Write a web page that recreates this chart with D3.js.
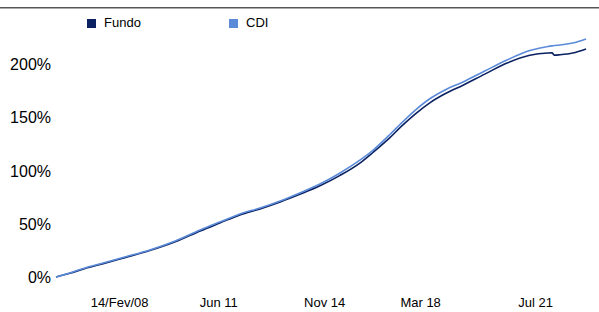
<!DOCTYPE html>
<html><head><meta charset="utf-8">
<script src="https://cdn.jsdelivr.net/npm/d3@7"></script>
<style>body{margin:0;background:#fff}svg{display:block}text{font-family:"Liberation Sans",Arial,sans-serif;fill:#000}</style>
</head><body><svg id="c" width="599" height="312"></svg>
<script>
// observation index along the category axis (0..100)
const periodIdx = [0, 2.6, 5.5, 8.9, 13.0, 17.7, 22.5, 27.2, 30.9, 34.7, 38.5, 42.3, 46.0, 49.8, 53.6, 57.4, 59.8, 63.0, 64.9, 67.7, 70.6, 73.4, 76.8, 80.9, 85.1, 89.4, 92.8, 93.6, 94.0, 95.1, 97.5, 100];
const cdi   = [0, 3.8, 8.5, 13.1, 18.8, 25.4, 33.8, 44.1, 51.6, 59.2, 64.8, 71.4, 78.9, 87.3, 97.7, 109.9, 119.0, 133.8, 143.2, 156.3, 167.6, 175.6, 183.1, 193.4, 203.8, 212.6, 216.5, 217.0, 217.3, 217.8, 219.7, 223.5];
const fundo = [0, 3.5, 8.0, 12.5, 18.2, 24.8, 33.0, 43.2, 50.7, 58.3, 63.9, 70.4, 77.6, 85.6, 95.4, 107.2, 116.9, 130.8, 140.2, 152.8, 163.8, 172.0, 180.1, 190.5, 200.9, 208.2, 210.3, 210.4, 208.3, 208.7, 210.3, 214.1];
const seriesNames = ["Fundo", "CDI"];
const seriesColors = ["#0b2262", "#5b8bd8"];
const tickIdx = [11.9, 30.6, 50.6, 68.7, 90.4];
const tickLabels = ["14/Fev/08", "Jun 11", "Nov 14", "Mar 18", "Jul 21"];
const yTicks = [0, 50, 100, 150, 200];

const svg = d3.select("#c");
const x = d3.scaleLinear().domain([0, 100]).range([56, 586]);
const y = d3.scaleLinear().domain([0, 200]).range([277, 64]);

// top rule
svg.append("line").attr("x1",0).attr("x2",599).attr("y1",7.5).attr("y2",7.5).attr("stroke","#555").attr("stroke-width",1);
svg.append("line").attr("x1",0).attr("x2",599).attr("y1",8.5).attr("y2",8.5).attr("stroke","#aaa").attr("stroke-width",1);

// y axis labels
const yAxis = d3.axisLeft(y).tickValues(yTicks).tickFormat(d => d + "%").tickSize(0).tickPadding(0);
const gy = svg.append("g").attr("transform","translate(51,0)").call(yAxis);
gy.select(".domain").remove();
gy.selectAll("text").attr("font-size",16).attr("font-family",'"Liberation Sans",Arial,sans-serif').attr("fill","#000").attr("dy","0.35em");

// x axis labels
const xAxis = d3.axisBottom(x).tickValues(tickIdx).tickFormat((d,i) => tickLabels[i]).tickSize(0).tickPadding(0);
const gx = svg.append("g").attr("transform","translate(0,298)").call(xAxis);
gx.select(".domain").remove();
gx.selectAll("text").attr("font-size",13).attr("font-family",'"Liberation Sans",Arial,sans-serif').attr("fill","#000").attr("dy","0.71em");

const line = d3.line().x((d,i) => x(periodIdx[i])).y(d => y(d)).curve(d3.curveMonotoneX);
// Fundo drawn first, CDI on top
svg.append("path").attr("d", line(fundo)).attr("fill","none").attr("stroke",seriesColors[0]).attr("stroke-width",1.6);
svg.append("path").attr("d", line(cdi)).attr("fill","none").attr("stroke",seriesColors[1]).attr("stroke-width",1.6);

// legend
const legX = [87, 229];
seriesNames.forEach((n,i) => {
  svg.append("rect").attr("x",legX[i]).attr("y",19).attr("width",9).attr("height",9).attr("fill",seriesColors[i]);
  svg.append("text").attr("x",legX[i]+17).attr("y",27).attr("font-size",13).text(n);
});
</script></body></html>
